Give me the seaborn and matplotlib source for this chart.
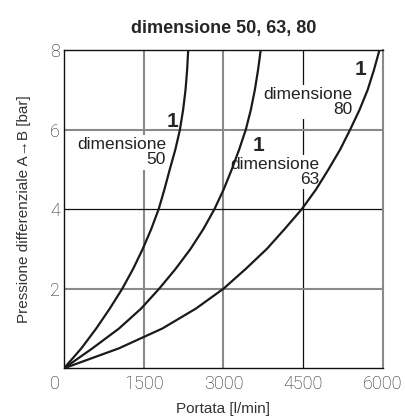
import matplotlib
matplotlib.use("Agg")
import matplotlib.pyplot as plt
import matplotlib.transforms as mtransforms
import seaborn as sns
import pandas as pd

# pressure steps [bar]
pressure = [0, 0.5, 1, 1.5, 2, 2.5, 3, 3.5, 4, 4.5, 5, 5.5, 6, 6.5, 7, 7.5, 8]

# flow [l/min] for each size at those pressures
flow_50 = [0, 326, 606, 861, 1096, 1301, 1481, 1641, 1781, 1890, 1990, 2095, 2181, 2241, 2286, 2316, 2336]
flow_63 = [0, 533, 1035, 1450, 1790, 2100, 2380, 2622, 2830, 3005, 3156, 3295, 3420, 3515, 3590, 3650, 3700]
flow_80 = [0, 1030, 1850, 2480, 3000, 3420, 3815, 4150, 4473, 4743, 4975, 5195, 5383, 5560, 5712, 5830, 5934]

x_ticks = [0, 1500, 3000, 4500, 6000]
y_ticks = [2, 4, 6, 8]

df = pd.concat([
    pd.DataFrame({'Portata': flow_50, 'Pressione': pressure, 'dim': '50'}),
    pd.DataFrame({'Portata': flow_63, 'Pressione': pressure, 'dim': '63'}),
    pd.DataFrame({'Portata': flow_80, 'Pressione': pressure, 'dim': '80'}),
])

sns.set_style("white")
plt.rcParams['font.family'] = ['Liberation Sans', 'DejaVu Sans']

fig = plt.figure(figsize=(4.05, 4.2), dpi=100)
ax = fig.add_axes([0.158, 0.1231, 0.7877, 0.758])

# grid: gray for most lines, thin black for 4500 / 4 bar
gray = '#8a8a8a'
for xv in [1500, 3000]:
    ax.axvline(xv, color=gray, lw=1.5, zorder=1)
ax.axvline(4500, color='#111111', lw=0.9, zorder=1)
for yv in [2, 6]:
    ax.axhline(yv, color=gray, lw=1.5, zorder=1)
ax.axhline(4, color='#111111', lw=0.9, zorder=1)

sns.lineplot(data=df, x='Portata', y='Pressione', hue='dim', units='dim',
             estimator=None, sort=False, palette=['#1a1a1a'] * 3, linewidth=1.6,
             legend=False, ax=ax, zorder=3)

ax.set_xlim(0, 6000)
ax.set_ylim(0, 8)
ax.set_xticks(x_ticks)
ax.set_yticks(y_ticks)
tick_font = dict(family=['Roboto', 'DejaVu Sans'], fontweight='light', fontsize=13, color='#222222')
ax.set_xticklabels([str(v) for v in x_ticks], **tick_font)
ax.set_yticklabels([str(v) for v in y_ticks], **tick_font)
ax.tick_params(axis='x', length=0, pad=5)
ax.tick_params(axis='y', length=0, pad=3)

# the origin "0" sits left of the corner
zero = ax.get_xticklabels()[0]
zero.set_ha('right')
zero.set_transform(zero.get_transform() + mtransforms.ScaledTranslation(-0.04, 0, fig.dpi_scale_trans))

for side in ['left', 'bottom', 'top']:
    ax.spines[side].set_color('#111111')
    ax.spines[side].set_linewidth(1.0)
ax.spines['right'].set_color(gray)
ax.spines['right'].set_linewidth(1.5)

ax.set_xlabel('Portata [l/min]', fontsize=11, color='#333333', labelpad=6)
ax.set_ylabel('Pressione differenziale A\u2192B [bar]', fontsize=11, color='#333333', labelpad=14)
ax.set_title('dimensione 50, 63, 80', fontsize=13, fontweight='bold', pad=12)

box = dict(facecolor='white', edgecolor='none', pad=1.5)
lab = dict(fontsize=12.5, color='#222222', ha='right', va='top', linespacing=1.0, zorder=2, bbox=box)
ax.text(1920, 5.8, 'dimensione\n50', **lab)
ax.text(4800, 5.3, 'dimensione\n63', **lab)
ax.text(5420, 7.06, 'dimensione\n80', **lab)

one = dict(fontsize=15, fontweight='bold', ha='center', va='center', zorder=4)
ax.text(2033, 6.2, '1', **one)
ax.text(3651, 5.6, '1', **one)
ax.text(5571, 7.5, '1', **one)

plt.savefig('out.png', dpi=100)
plt.close()
